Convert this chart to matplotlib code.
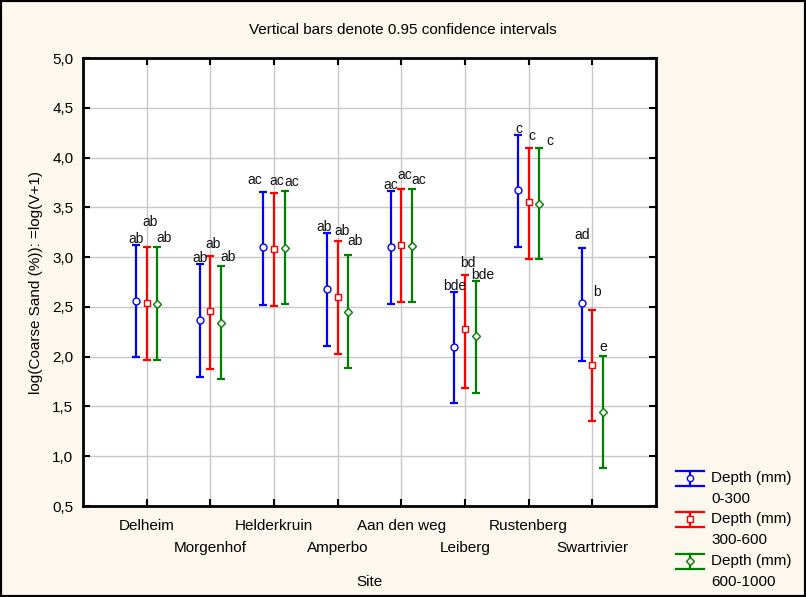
import numpy as np
import matplotlib
matplotlib.use("Agg")
from matplotlib import pyplot as plt
from matplotlib.lines import Line2D
from matplotlib.patches import Rectangle

sites = ["Delheim", "Morgenhof", "Helderkruin", "Amperbo",
         "Aan den weg", "Leiberg", "Rustenberg", "Swartrivier"]
depths = ["0-300", "300-600", "600-1000"]

# means and 0.95 confidence limits, log(Coarse Sand (%)+1)
mean_0_300 = [2.56, 2.37, 3.10, 2.68, 3.10, 2.10, 3.67, 2.54]
low_0_300 = [2.00, 1.80, 2.52, 2.11, 2.53, 1.53, 3.10, 1.96]
high_0_300 = [3.12, 2.93, 3.65, 3.24, 3.66, 2.65, 4.23, 3.09]

mean_300_600 = [2.54, 2.46, 3.08, 2.60, 3.12, 2.28, 3.55, 1.92]
low_300_600 = [1.97, 1.88, 2.51, 2.03, 2.55, 1.69, 2.98, 1.35]
high_300_600 = [3.10, 3.01, 3.64, 3.16, 3.68, 2.82, 4.10, 2.47]

mean_600_1000 = [2.53, 2.34, 3.09, 2.45, 3.11, 2.21, 3.53, 1.44]
low_600_1000 = [1.97, 1.78, 2.53, 1.89, 2.55, 1.64, 2.98, 0.88]
high_600_1000 = [3.10, 2.91, 3.66, 3.02, 3.68, 2.76, 4.10, 2.01]

# homogeneous group letters
letters_0_300 = ["ab", "ab", "ac", "ab", "ac", "bde", "c", "ad"]
letters_300_600 = ["ab", "ab", "ac", "ab", "ac", "bd", "c", "b"]
letters_600_1000 = ["ab", "ab", "ac", "ab", "ac", "bde", "c", "e"]

plt.rcParams['font.family'] = ['Liberation Sans', 'DejaVu Sans']
W, H = 806, 597
bg = "#fdf8ee"
fs = 11

fig = plt.figure(figsize=(W / 100, H / 100), dpi=100, facecolor=bg)
ax = fig.add_axes([83 / W, 1 - 506 / H, (656 - 83) / W, (506 - 58) / H])
ax.set_facecolor("white")


def fx(px):
    return px / W


def fy(py):
    return 1 - py / H


series = [
    (mean_0_300, low_0_300, high_0_300, letters_0_300, "#0000ff", "o", -0.165),
    (mean_300_600, low_300_600, high_300_600, letters_300_600, "#ff0000", "s", 0.0),
    (mean_600_1000, low_600_1000, high_600_1000, letters_600_1000, "#008000", "D", 0.165),
]

# default label offsets (pixels) per series, plus a few hand nudges
label_offset = [(0, 6), (3, 12), (7, 9)]
label_nudge = {(1, 0): (0, 13), (0, 2): (-9, 6), (0, 7): (0, 7),
               (0, 3): (-3, 0), (1, 3): (1, -2),
               (2, 3): (0, 5), (1, 4): (0, 2), (2, 5): (0, -3),
               (0, 6): (1, 0), (2, 6): (4, -2), (1, 7): (2, 6), (2, 7): (-7, 0)}

x = np.arange(1, len(sites) + 1)
for k, (m, lo, hi, lets, col, mk, off) in enumerate(series):
    m = np.array(m)
    lo = np.array(lo)
    hi = np.array(hi)
    xs = x + off
    ax.errorbar(xs, m, yerr=[m - lo, hi - m], fmt="none", ecolor=col,
                elinewidth=1.6, capsize=3.0, capthick=1.6, zorder=3)
    msz = 5 if mk != "D" else 4.5
    ax.plot(xs, m, linestyle="none", marker=mk, markersize=msz,
            markerfacecolor="white", markeredgecolor=col,
            markeredgewidth=1.0, zorder=4)
    for i, t in enumerate(lets):
        dx, dy = label_offset[k]
        ndx, ndy = label_nudge.get((k, i), (0, 0))
        ax.annotate(t, (xs[i], hi[i]), xytext=(dx + ndx, dy + ndy),
                    textcoords="offset pixels", ha="center", va="center",
                    fontsize=10, color="#111111", zorder=5)

ax.set_xlim(0, len(sites) + 1)
ax.set_ylim(0.5, 5.0)
yt = np.arange(0.5, 5.01, 0.5)
ax.set_yticks(yt)
ax.set_yticklabels([f"{v:.1f}".replace(".", ",") for v in yt], fontsize=fs)
ax.set_xticks(x)
ax.set_xticklabels([])
ax.tick_params(direction="in", length=5, width=1.5, top=True, right=True,
               color="black", pad=7)
ax.grid(True, color="#c8c8c8", linewidth=1.0)
ax.set_axisbelow(True)
for sp in ax.spines.values():
    sp.set_linewidth(2.0)
    sp.set_color("black")

# site names in two staggered rows
for i, name in enumerate(sites):
    row_y = -20 / 448 if i % 2 == 0 else -42 / 448
    ax.text(x[i], row_y, name, transform=ax.get_xaxis_transform(),
            ha="center", va="center", fontsize=fs)

ax.text(0.5, -76 / 448, "Site", transform=ax.transAxes,
        ha="center", va="center", fontsize=fs)
fig.text(fx(36), fy(282), "log(Coarse Sand (%)): =log(V+1)",
         rotation=90, ha="center", va="center", fontsize=fs)
fig.text(0.5, fy(30), "Vertical bars denote 0.95 confidence intervals",
         ha="center", va="center", fontsize=fs)

# legend drawn beside the plot
for k, (m, lo, hi, lets, col, mk, off) in enumerate(series):
    cy = [478, 519, 561][k]
    fig.add_artist(Line2D([fx(676), fx(704)], [fy(cy - 7.5)] * 2, color=col, lw=1.6))
    fig.add_artist(Line2D([fx(676), fx(704)], [fy(cy + 7.5)] * 2, color=col, lw=1.6))
    fig.add_artist(Line2D([fx(690), fx(690)], [fy(cy - 7.5), fy(cy + 7.5)], color=col, lw=1.6))
    fig.add_artist(Line2D([fx(690)], [fy(cy)], marker=mk, markersize=4.5,
                          markerfacecolor="white", markeredgecolor=col,
                          markeredgewidth=1.0, linestyle="none"))
    fig.text(fx(711), fy(cy), "Depth (mm)", ha="left", va="center", fontsize=fs)
    fig.text(fx(711), fy(cy + 21), depths[k], ha="left", va="center", fontsize=fs)

fig.add_artist(Rectangle((0, 0), 1, 1, transform=fig.transFigure, fill=False,
                         edgecolor="black", linewidth=3))

fig.savefig("out.png", dpi=100, facecolor=bg)
